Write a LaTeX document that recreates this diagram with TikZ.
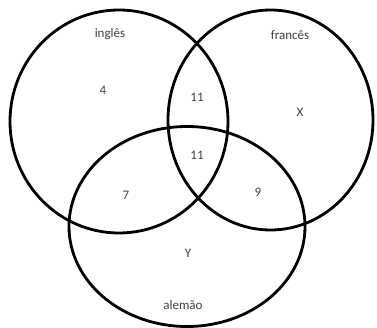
\documentclass[tikz,border=0pt]{standalone}
\usepackage{fontspec}
\setmainfont{Carlito}
\begin{document}
\begin{tikzpicture}[x=1pt,y=-1pt,
  ring/.style={draw=black,line width=2.8pt},
  lbl/.style={font=\fontsize{13}{15}\selectfont,text=black!75,inner sep=0pt}]
\useasboundingbox (0,0) rectangle (377,328);
\draw[ring] (119,121.5) ellipse [x radius=109,y radius=111.5];
\draw[ring] (270.5,120) ellipse [x radius=102.5,y radius=110];
\draw[ring] (187,226.5) ellipse [x radius=118,y radius=100];
\node[lbl] (ing) at (110,34) {inglês};
\node[lbl] (fra) at (290,35) {francês};
\node[lbl] (a) at (103,90) {4};
\node[lbl] (b) at (197,97) {11};
\node[lbl] (x) at (300,112) {X};
\node[lbl] (c) at (197,155) {11};
\node[lbl] (d) at (126,195) {7};
\node[lbl] (e) at (258,192) {9};
\node[lbl] (y) at (188,253) {Y};
\node[lbl] (ale) at (183,305) {alemão};
\end{tikzpicture}
\end{document}
